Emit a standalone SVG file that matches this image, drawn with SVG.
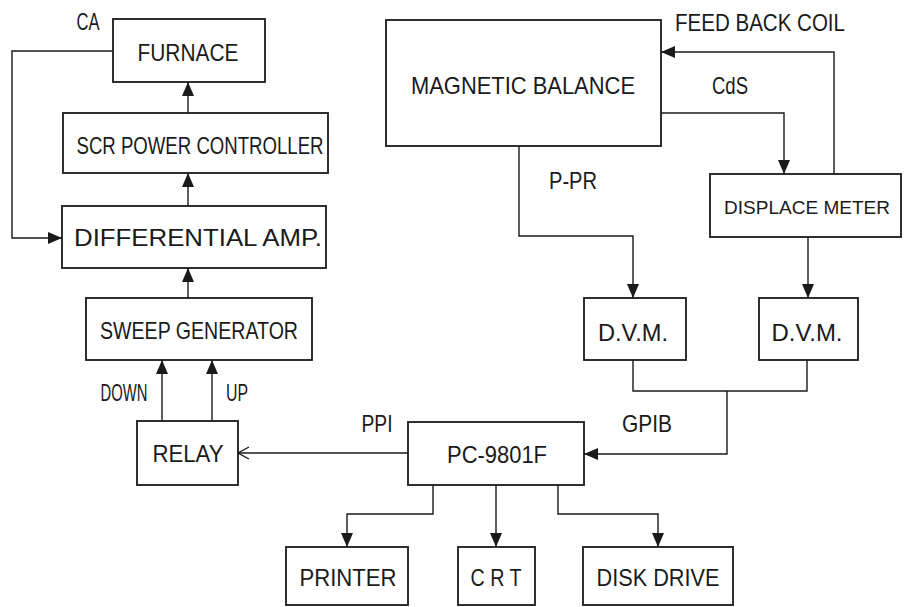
<svg xmlns="http://www.w3.org/2000/svg" width="904" height="607" viewBox="0 0 904 607">
<defs>
<style>
.box{fill:none;stroke:#1a1a1a;stroke-width:1.8}
.ln{fill:none;stroke:#1a1a1a;stroke-width:1.4}
.arr{marker-end:url(#tri)}
.open{marker-end:url(#open)}
text{font-family:"Liberation Sans",Arial,sans-serif;font-size:24px;fill:#1a1a1a;text-anchor:middle;dominant-baseline:central}
</style>
<marker id="tri" markerUnits="userSpaceOnUse" markerWidth="16" markerHeight="16" viewBox="0 0 16 16" refX="15" refY="8" orient="auto">
<path d="M1,2 L15,8 L1,14 Z" fill="#1a1a1a"/>
</marker>
<marker id="open" markerUnits="userSpaceOnUse" markerWidth="14" markerHeight="16" viewBox="0 0 14 16" refX="13" refY="8" orient="auto">
<path d="M2,2 L13,8 L2,14" fill="none" stroke="#1a1a1a" stroke-width="1.4"/>
</marker>
</defs>
<rect width="904" height="607" fill="#fff"/>

<g id="connectors">
<path class="ln arr" d="M113,51 H12 V238 H62"/>
<path class="ln arr" d="M188,113 V82"/>
<path class="ln arr" d="M188,206 V173"/>
<path class="ln arr" d="M188,298 V268"/>
<path class="ln arr" d="M162,421 V360"/>
<path class="ln arr" d="M212,421 V360"/>
<path class="ln open" d="M408,453 H238"/>
<path class="ln arr" d="M433,485 V514 H347 V547"/>
<path class="ln arr" d="M496,485 V547"/>
<path class="ln arr" d="M558,485 V514 H658 V547"/>
<path class="ln" d="M633,360 V391 H807 V360"/>
<path class="ln arr" d="M727,391 V454 H584"/>
<path class="ln arr" d="M519,146 V236 H633 V298"/>
<path class="ln arr" d="M661,113 H784 V174"/>
<path class="ln arr" d="M834,174 V52 H661"/>
<path class="ln arr" d="M808,237 V298"/>
<text x="88" y="21" textLength="23" lengthAdjust="spacingAndGlyphs">CA</text>
<text x="124" y="392" textLength="47" lengthAdjust="spacingAndGlyphs">DOWN</text>
<text x="237" y="392" textLength="22" lengthAdjust="spacingAndGlyphs">UP</text>
<text x="377" y="423" textLength="31" lengthAdjust="spacingAndGlyphs">PPI</text>
<text x="647" y="423" textLength="50" lengthAdjust="spacingAndGlyphs">GPIB</text>
<text x="573" y="180" textLength="48" lengthAdjust="spacingAndGlyphs">P-PR</text>
<text x="730" y="85" textLength="36" lengthAdjust="spacingAndGlyphs">CdS</text>
<text x="760" y="22" textLength="170" lengthAdjust="spacingAndGlyphs">FEED BACK COIL</text>
</g>

<g id="furnace">
<rect class="box" x="113" y="19" width="152" height="63"/>
<text x="188" y="52" textLength="101" lengthAdjust="spacingAndGlyphs">FURNACE</text>
</g>
<g id="scr">
<rect class="box" x="63" y="113" width="265" height="60"/>
<text x="200" y="145" textLength="247" lengthAdjust="spacingAndGlyphs">SCR POWER CONTROLLER</text>
</g>
<g id="diffamp">
<rect class="box" x="62" y="206" width="264" height="62"/>
<text x="198" y="237" textLength="248" lengthAdjust="spacingAndGlyphs">DIFFERENTIAL AMP.</text>
</g>
<g id="sweep">
<rect class="box" x="86" y="298" width="226" height="62"/>
<text x="199" y="330" textLength="198" lengthAdjust="spacingAndGlyphs">SWEEP GENERATOR</text>
</g>
<g id="relay">
<rect class="box" x="137" y="421" width="101" height="64"/>
<text x="188" y="453" textLength="71" lengthAdjust="spacingAndGlyphs">RELAY</text>
</g>
<g id="pc">
<rect class="box" x="408" y="422" width="176" height="63"/>
<text x="497" y="454" textLength="100" lengthAdjust="spacingAndGlyphs">PC-9801F</text>
</g>
<g id="printer">
<rect class="box" x="286" y="547" width="122" height="58"/>
<text x="348" y="577" textLength="97" lengthAdjust="spacingAndGlyphs">PRINTER</text>
</g>
<g id="crt">
<rect class="box" x="458" y="547" width="77" height="58"/>
<text x="496" y="577" textLength="51" lengthAdjust="spacingAndGlyphs">C R T</text>
</g>
<g id="disk">
<rect class="box" x="583" y="547" width="150" height="58"/>
<text x="658" y="577" textLength="123" lengthAdjust="spacingAndGlyphs">DISK DRIVE</text>
</g>
<g id="dvm1">
<rect class="box" x="584" y="298" width="102" height="62"/>
<text x="633" y="332" textLength="70" lengthAdjust="spacingAndGlyphs">D.V.M.</text>
</g>
<g id="dvm2">
<rect class="box" x="759" y="298" width="99" height="62"/>
<text x="807" y="332" textLength="71" lengthAdjust="spacingAndGlyphs">D.V.M.</text>
</g>
<g id="balance">
<rect class="box" x="386" y="20" width="275" height="126"/>
<text x="523" y="85" textLength="224" lengthAdjust="spacingAndGlyphs">MAGNETIC BALANCE</text>
</g>
<g id="displace">
<rect class="box" x="710" y="174" width="191" height="63"/>
<text x="807" y="207" style="font-size:19px" textLength="166" lengthAdjust="spacingAndGlyphs">DISPLACE METER</text>
</g>
</svg>
